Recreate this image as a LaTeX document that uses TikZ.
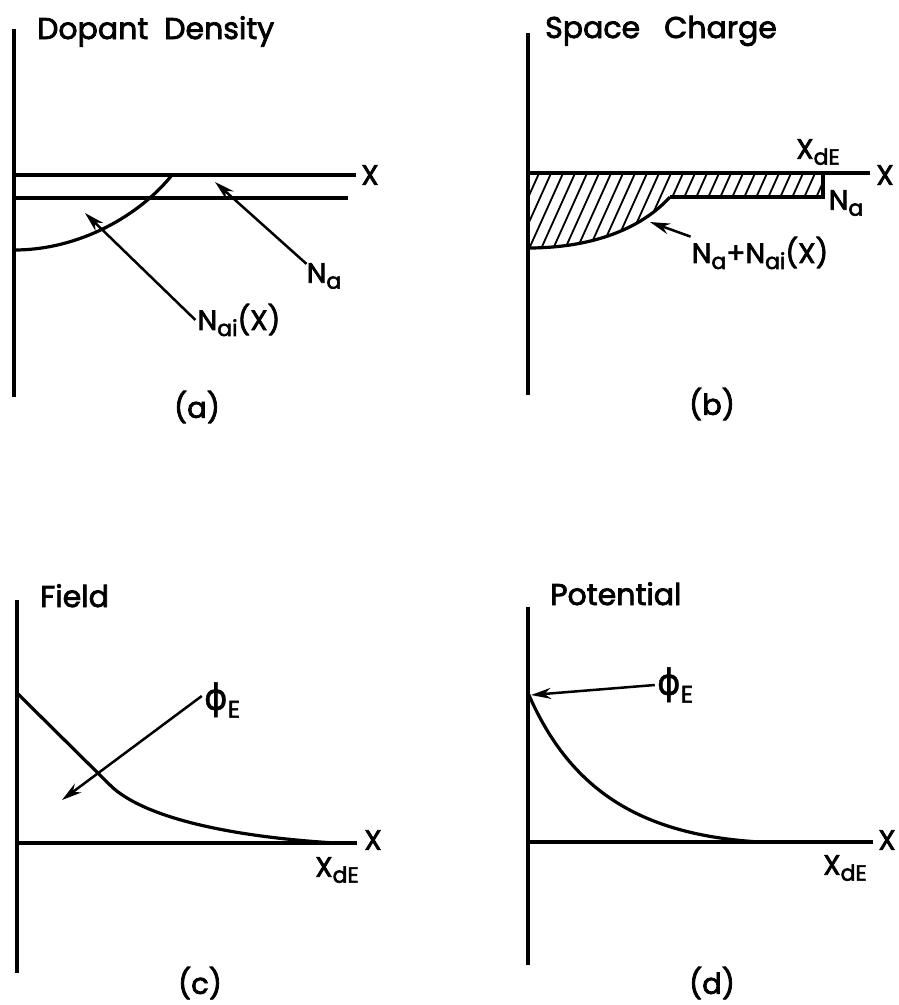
\documentclass[tikz,border=0pt]{standalone}
\usepackage{fontspec}
\setmainfont{Poppins}[FakeBold=2.5]
\newfontfamily\grf{DejaVu Sans}[FakeBold=1]
\usetikzlibrary{arrows.meta}
\newcommand\sbs[1]{\raisebox{-6pt}{\fontsize{22}{22}\selectfont #1}}
\newcommand\phiE{{\grf\fontsize{36}{36}\selectfont ϕ}\raisebox{-8pt}{\fontsize{24}{24}\selectfont E}}
\begin{document}
\begin{tikzpicture}[x=1pt,y=-1pt,
  axis/.style={line width=3.2pt},
  crv/.style={line width=3.2pt},
  arr/.style={line width=2.5pt,-{Stealth[length=20pt,width=11pt]}},
  hatch/.style={line width=1.8pt},
  ttl/.style={font=\fontsize{30}{36}\selectfont,anchor=base west,inner sep=0},
  lab/.style={font=\fontsize{28}{32}\selectfont,inner sep=2pt},
  caplab/.style={font=\fontsize{29}{34}\selectfont,inner sep=0}]
\useasboundingbox[fill=white] (0,0) rectangle (899,1005);

% ---------------- (a) ----------------
\node[ttl] (ta) at (37,39) {Dopant\ \ Density};
\coordinate (a0) at (14,29);
\coordinate (a1) at (14,397);
\draw[axis] (a0) -- (a1);
\coordinate (ax0) at (14,175);
\coordinate (ax1) at (356,175);
\draw[axis] (ax0) -- (ax1);
\node[lab] (axX) at (370,175) {X};
\coordinate (na0) at (14,198);
\coordinate (na1) at (348,198);
\draw[axis] (na0) -- (na1);
\coordinate (ca0) at (14,250);
\coordinate (ca1) at (172,175);
\draw[crv] (ca0) .. controls (80,250) and (140,215) .. (ca1);
\node[lab] (nalab) at (324,276) {N\sbs{a}};
\coordinate (natip) at (215,182);
\draw[arr] ([xshift=2pt,yshift=-3pt]nalab.north west) -- (natip);
\node[lab] (nailab) at (239,320) {N\sbs{ai}(X)};
\coordinate (naitip) at (85,213);
\draw[arr] (nailab.west) -- (naitip);
\node[caplab] (capa) at (197,407) {(a)};

% ---------------- (b) ----------------
\node[ttl] (tb) at (545,38) {Space\ \ \ Charge};
\coordinate (b0) at (528,33);
\coordinate (b1) at (528,395);
\begin{scope}
  \clip (528,173) -- (823,173) -- (823,197) -- (670,197)
        .. controls (640,230) and (590,248) .. (528,248) -- cycle;
  \foreach \x in {440,452,...,830}
    \draw[hatch] (\x,260) -- ++(45,-100);
\end{scope}
\draw[axis] (b0) -- (b1);
\coordinate (bx0) at (528,173);
\coordinate (bx1) at (870,173);
\draw[axis] (bx0) -- (bx1);
\node[lab] (bxX) at (885,175) {X};
\coordinate (br0) at (823,173);
\coordinate (br1) at (823,197);
\coordinate (br2) at (670,197);
\draw[crv,line join=miter] (br0) -- (br1) -- (br2);
\coordinate (cb0) at (528,248);
\draw[crv] (cb0) .. controls (590,248) and (640,230) .. (br2);
\node[lab] (bxde) at (818,152) {X\sbs{dE}};
\node[lab] (bna) at (846,203) {N\sbs{a}};
\node[lab] (bsum) at (760,253) {N\sbs{a}+N\sbs{ai}(X)};
\coordinate (bsumtip) at (650,222);
\draw[arr] ([xshift=1pt,yshift=-2pt]bsum.north west) -- (bsumtip);
\node[caplab] (capb) at (712,404) {(b)};

% ---------------- (c) ----------------
\node[ttl] (tc) at (40,607) {Field};
\coordinate (c0) at (17,600);
\coordinate (c1) at (17,973);
\draw[axis] (c0) -- (c1);
\coordinate (cx0) at (17,843);
\coordinate (cx1) at (357,843);
\draw[axis] (cx0) -- (cx1);
\node[lab] (cxX) at (373,840) {X};
\coordinate (cc0) at (17,693);
\coordinate (cc1) at (110,785);
\coordinate (cc2) at (335,843);
\draw[crv] (cc0) -- (cc1) .. controls (140,815) and (220,836) .. (cc2);
\node[lab] (cphi) at (222,700) {\phiE};
\coordinate (cphitip) at (62,800);
\draw[arr] ([yshift=4pt]cphi.west) -- (cphitip);
\node[lab] (cxde) at (337,870) {X\sbs{dE}};
\node[caplab] (capc) at (200,983) {(c)};

% ---------------- (d) ----------------
\node[ttl] (td) at (550,605) {Potential};
\coordinate (d0) at (528,607);
\coordinate (d1) at (528,965);
\draw[axis] (d0) -- (d1);
\coordinate (dx0) at (528,842);
\coordinate (dx1) at (873,842);
\draw[axis] (dx0) -- (dx1);
\node[lab] (dxX) at (887,840) {X};
\coordinate (dc0) at (528,693);
\coordinate (dc1) at (760,842);
\draw[crv] (dc0) .. controls (570,790) and (640,835) .. (dc1);
\node[lab] (dphi) at (675,685) {\phiE};
\coordinate (dphitip) at (531,695);
\draw[arr] (dphi.west) -- (dphitip);
\node[lab] (dxde) at (845,868) {X\sbs{dE}};
\node[caplab] (capd) at (712,983) {(d)};
\end{tikzpicture}
\end{document}
